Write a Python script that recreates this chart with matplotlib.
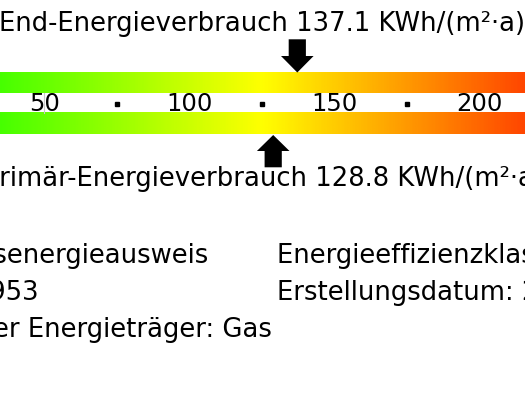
import numpy as np
import matplotlib.pyplot as plt
from matplotlib.colors import LinearSegmentedColormap
from matplotlib.patches import Polygon

# energy scale in KWh/(m²·a)
scale_min = 0
scale_max = 250
tick_values = [50, 100, 150, 200]
dot_values = [75, 125, 175]

end_value = 137.1
primary_value = 128.8

end_label = "End-Energieverbrauch"
primary_label = "Primär-Energieverbrauch"
unit = "KWh/(m²·a)"

info_left = ["Energieausweistyp: Verbrauchsenergieausweis",
             "Baujahr: 1953",
             "Wesentlicher Energieträger: Gas"]
info_right = ["Energieeffizienzklasse: D",
              "Erstellungsdatum: 2019"]

W, H = 525, 394
fig = plt.figure(figsize=(W / 100, H / 100), dpi=100)
ax = fig.add_axes([0, 0, 1, 1])

# visible part of the scale (the label is cropped on both sides)
x0, x1 = 34.69, 215.54
px = (x1 - x0) / W          # data units per pixel

def xpix(p):
    return x0 + p * px

FS = 18.6

# colour bars ##########################################################
cmap = LinearSegmentedColormap.from_list("energy", ["#00ff00", "#ffff00", "#ff0000"])
grad = np.linspace(scale_min, scale_max, 600)[None, :]
for top, bottom in [(72.5, 93.3), (113.3, 134.5)]:
    ax.imshow(grad, extent=(scale_min, scale_max, bottom, top), cmap=cmap,
              aspect="auto", interpolation="bilinear")

# scale numbers and dots
for v in tick_values:
    ax.text(v, 110.5, str(v), ha="center", va="baseline", fontsize=17.5)
ax.plot(dot_values, [104] * len(dot_values), "s", ms=2.9, color="black")
ax.plot([tick_values[0]] * 2, [93.3, 113.3], color="#c8c8c8", lw=0.8)

# arrows ################################################################
def arrow(v, tip, base, tail):
    hw, sw = 16.3 * px, 8.6 * px
    pts = [(v, tip), (v - hw, base), (v - sw, base), (v - sw, tail),
           (v + sw, tail), (v + sw, base), (v + hw, base)]
    ax.add_patch(Polygon(pts, closed=True, fc="black", ec="none"))

arrow(end_value, 72.5, 56, 39.3)
arrow(primary_value, 135, 151, 167.3)

ax.text(xpix(-1), 31, f"{end_label} {end_value} {unit}", ha="left", va="baseline", fontsize=FS)
ax.text(xpix(-16), 186, f"{primary_label} {primary_value} {unit}", ha="left", va="baseline", fontsize=FS)

# info block ############################################################
left_ends = [208.3, 38.3, 271.7]
row_y = [263, 300.5, 337]
for s, xe, y in zip(info_left, left_ends, row_y):
    ax.text(xpix(xe), y, s, ha="right", va="baseline", fontsize=FS)
for s, y in zip(info_right, row_y):
    ax.text(xpix(277.3), y, s, ha="left", va="baseline", fontsize=FS)

ax.set_xlim(x0, x1)
ax.set_ylim(H, 0)
ax.axis("off")

fig.savefig("out.png", dpi=100)
